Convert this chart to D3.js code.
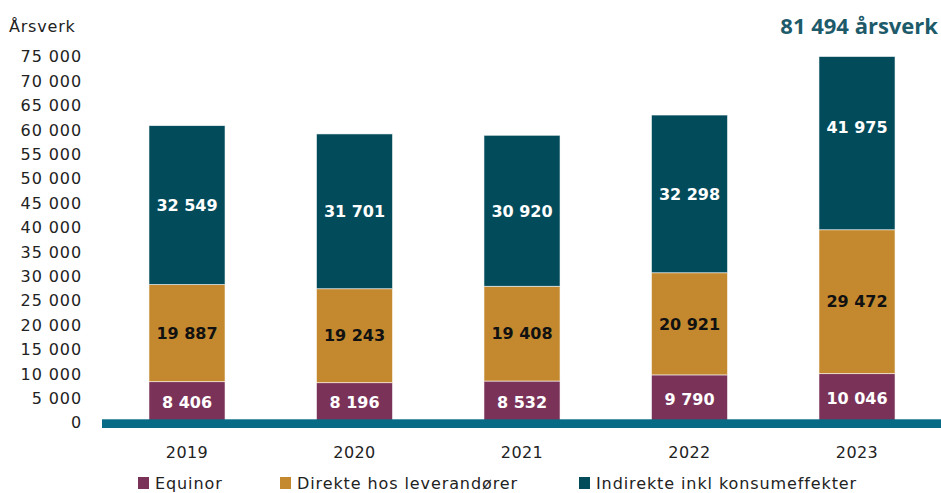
<!DOCTYPE html>
<html lang="no">
<head>
<meta charset="utf-8">
<title>Årsverk</title>
<script src="https://d3js.org/d3.v7.min.js"></script>
<style>
  body { margin: 0; background: #fff; }
  text { font-family: "DejaVu Sans", sans-serif; }
</style>
</head>
<body>
<svg width="941" height="493"></svg>
<script>
const years = ["2019", "2020", "2021", "2022", "2023"];
const equinor = [8406, 8196, 8532, 9790, 10046];
const direkte = [19887, 19243, 19408, 20921, 29472];
const indirekte = [32549, 31701, 30920, 32298, 41975];
const seriesNames = ["Equinor", "Direkte hos leverandører", "Indirekte inkl konsumeffekter"];
const colors = ["#7b3259", "#c4892e", "#024b5b"];
const labelColors = ["#fff", "#111", "#fff"];
const yTicks = d3.range(0, 75001, 5000);
const totalLabel = "81 494 årsverk";

const svg = d3.select("svg");
const nb = d3.formatLocale({ decimal: ",", thousands: " ", grouping: [3], currency: ["", " kr"] });
const fmt = nb.format(",d");

const rows = years.map((y, i) => ({ year: y, e: equinor[i], d: direkte[i], n: indirekte[i] }));
const stack = d3.stack().keys(["e", "d", "n"])(rows);

const x = d3.scaleBand().domain(years).range([103.25, 940.75]).paddingInner(0.546).paddingOuter(0.273);
const y = d3.scaleLinear().domain([0, 75000]).range([422.7, 56.5]).clamp(true);

// y tick labels
svg.append("g").selectAll("text").data(yTicks).enter().append("text")
  .attr("x", 82).attr("y", d => y(d)).attr("dy", "0.36em")
  .attr("text-anchor", "end").attr("font-size", 16).attr("fill", "#222")
  .attr("letter-spacing", 0.9)
  .text(d => fmt(d));

svg.append("text").attr("x", 9).attr("y", 31.5)
  .attr("font-size", 16).attr("fill", "#222").attr("letter-spacing", 0.8).text("Årsverk");

// bars
const layers = svg.append("g").selectAll("g").data(stack).enter().append("g")
  .attr("fill", (d, i) => colors[i]);
layers.selectAll("rect").data(d => d).enter().append("rect")
  .attr("x", d => x(d.data.year))
  .attr("width", x.bandwidth())
  .attr("y", d => y(d[1]))
  .attr("height", d => y(d[0]) - y(d[1]))
  .attr("stroke", "#fff").attr("stroke-width", 0.8).attr("stroke-opacity", 0.7);

// segment labels
const yRaw = y.copy().clamp(false);
stack.forEach((layer, i) => {
  svg.append("g").selectAll("text").data(layer).enter().append("text")
    .attr("x", d => x(d.data.year) + x.bandwidth() / 2)
    .attr("y", d => yRaw((d[0] + d[1]) / 2))
    .attr("dy", "0.36em").attr("text-anchor", "middle")
    .attr("font-size", 16).attr("font-weight", "bold")
    .attr("fill", labelColors[i])
    .text(d => fmt(d[1] - d[0]));
});

// baseline band
svg.append("rect").attr("x", 102).attr("y", 419.3).attr("width", 839).attr("height", 8.7)
  .attr("fill", "#086b86");

// x labels
svg.append("g").selectAll("text").data(years).enter().append("text")
  .attr("x", d => x(d) + x.bandwidth() / 2).attr("y", 457.5)
  .attr("text-anchor", "middle").attr("font-size", 16).attr("fill", "#222")
  .attr("letter-spacing", 0.4)
  .text(d => d);

// total annotation
svg.append("text").attr("x", 938).attr("y", 34)
  .attr("text-anchor", "end")
  .style("font-family", "'Open Sans', sans-serif")
  .attr("font-size", 22).attr("font-weight", "bold").attr("fill", "#1d5a6a")
  .text(totalLabel);

// legend
const legX = [138, 280, 579];
const leg = svg.append("g").selectAll("g").data(seriesNames).enter().append("g")
  .attr("transform", (d, i) => `translate(${legX[i]},0)`);
leg.append("rect").attr("x", 0).attr("y", 477).attr("width", 11).attr("height", 12)
  .attr("fill", (d, i) => colors[i]);
leg.append("text").attr("x", 17).attr("y", 483).attr("dy", "0.36em")
  .attr("font-size", 16).attr("fill", "#222").attr("letter-spacing", 0.9).text(d => d);
</script>
</body>
</html>
